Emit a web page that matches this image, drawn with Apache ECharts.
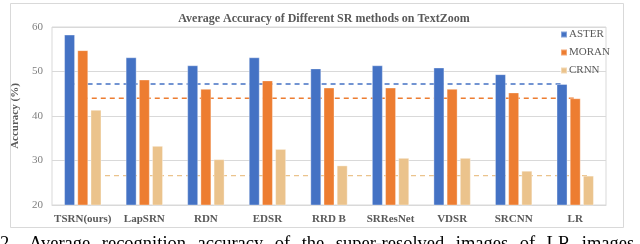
<!DOCTYPE html>
<html>
<head>
<meta charset="utf-8">
<script src="https://cdn.jsdelivr.net/npm/echarts@6/dist/echarts.min.js"></script>
<style>html,body{margin:0;padding:0;background:#fff;}#c{width:640px;height:244px;}</style>
</head>
<body>
<div id="c"></div>
<script>
var categories = ['TSRN(ours)', 'LapSRN', 'RDN', 'EDSR', 'RRD B', 'SRResNet', 'VDSR', 'SRCNN', 'LR'];
var aster = [58.3, 53.2, 51.4, 53.2, 50.7, 51.4, 50.9, 49.4, 47.2];
var moran = [54.8, 48.2, 46.1, 48.0, 46.4, 46.4, 46.1, 45.3, 44.0];
var crnn  = [41.4, 33.3, 30.3, 32.6, 28.9, 30.6, 30.6, 27.7, 26.6];
var yTicks = [20, 30, 40, 50, 60];
var colors = {ASTER: '#4472C4', MORAN: '#ED7D31', CRNN: '#EBC38C'};
var captionWords = ['Average', 'recognition', 'accuracy', 'of', 'the', 'super-resolved', 'images', 'of', 'LR', 'images'];

var serif = '"Liberation Serif", "DejaVu Serif", serif';
var gridLeft = 52, gridRight = 34, gridTop = 27, gridBottom = 39;
var W = 640;
var plotW = W - gridLeft - gridRight;
var catW = plotW / categories.length;
var barW = 11, gapRatio = 0.2;
var groupW = 3 * barW + 2 * barW * gapRatio;
function offsetFor(k) { // in category units
  var px = -groupW / 2 + barW / 2 + k * (barW + barW * gapRatio);
  return px / catW;
}
function baseline(values, k) {
  var last = values[values.length - 1];
  return [[0.5 + offsetFor(k), last], [categories.length - 0.5 + offsetFor(k), last]];
}
function barSeries(name, data) {
  return {
    name: name, type: 'bar', data: data, barWidth: barW, barGap: (gapRatio * 100) + '%',
    xAxisIndex: 0, yAxisIndex: 0, z: 3,
    itemStyle: {color: colors[name], borderColor: 'rgba(255,255,255,0.35)', borderWidth: 1}
  };
}
function lineSeries(name, data, k) {
  return {
    name: name + '_base', type: 'line', data: baseline(data, k), xAxisIndex: 1, yAxisIndex: 0,
    symbol: 'none', silent: true, z: 2,
    lineStyle: {color: colors[name], width: 1.4, type: [5, 4]}
  };
}

// caption words laid out with justified word spacing
var captionFont = '18.5px ' + serif;
var mctx = document.createElement('canvas').getContext('2d');
mctx.font = captionFont;
var captionEls = [{type: 'text', left: 0, top: 235, style: {text: '2.', font: captionFont, fill: '#000'}}];
var cx = 29;
captionWords.forEach(function (w) {
  captionEls.push({type: 'text', left: cx, top: 235, style: {text: w, font: captionFont, fill: '#000'}});
  cx += mctx.measureText(w).width + 11.5;
});

var chart = echarts.init(document.getElementById('c'), null, {renderer: 'canvas'});
chart.setOption({
  animation: false,
  backgroundColor: '#fff',
  title: {
    text: 'Average Accuracy of Different SR methods on TextZoom',
    left: 319, top: 8, textAlign: 'center',
    textStyle: {fontFamily: serif, fontWeight: 'bold', fontSize: 12, color: '#595959'}
  },
  legend: {
    data: ['ASTER', 'MORAN', 'CRNN'], orient: 'vertical', left: 555, top: 24,
    itemWidth: 6, itemHeight: 6, itemGap: 7, icon: 'rect',
    textStyle: {fontFamily: serif, fontSize: 11, color: '#595959', padding: [0, 0, 0, -3]}
  },
  grid: {left: gridLeft, right: gridRight, top: gridTop, bottom: gridBottom, show: true, borderColor: '#d9d9d9', borderWidth: 1},
  xAxis: [{
    type: 'category', data: categories,
    axisLine: {show: true, lineStyle: {color: '#d9d9d9'}}, axisTick: {show: false},
    axisLabel: {interval: 0, fontFamily: serif, fontWeight: 'bold', fontSize: 11, color: '#595959', margin: 9}
  }, {
    type: 'value', min: 0, max: categories.length, show: false
  }],
  yAxis: {
    type: 'value', min: yTicks[0], max: yTicks[yTicks.length - 1], interval: 10,
    name: 'Accuracy (%)', nameLocation: 'middle', nameGap: 24,
    nameTextStyle: {fontFamily: serif, fontWeight: 'bold', fontSize: 11, color: '#595959'},
    axisLine: {show: false}, axisTick: {show: false},
    axisLabel: {fontFamily: serif, fontSize: 11, color: '#7f7f7f', margin: 9},
    splitLine: {lineStyle: {color: '#d9d9d9', width: 1}}
  },
  series: [
    lineSeries('ASTER', aster, 0), lineSeries('MORAN', moran, 1), lineSeries('CRNN', crnn, 2),
    barSeries('ASTER', aster), barSeries('MORAN', moran), barSeries('CRNN', crnn)
  ],
  graphic: [
    {type: 'rect', shape: {x: 10.5, y: 3.5, width: 613, height: 224}, style: {fill: 'none', stroke: '#d9d9d9', lineWidth: 1}, z: 0, silent: true}
  ].concat(captionEls)
});
</script>
</body>
</html>
